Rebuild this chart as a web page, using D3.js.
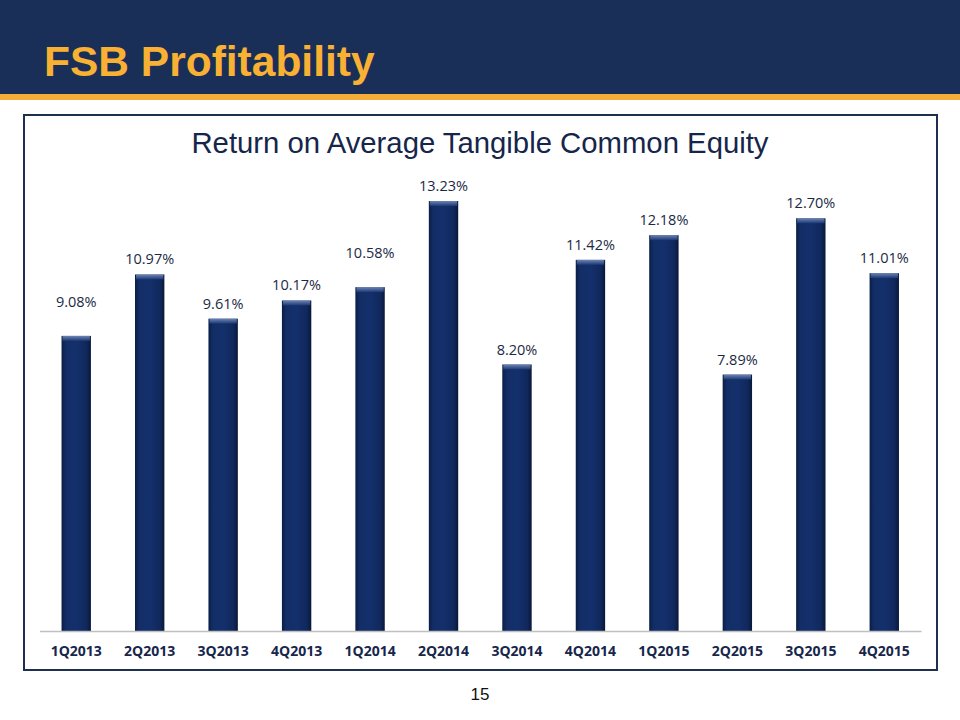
<!DOCTYPE html>
<html><head><meta charset="utf-8">
<script src="https://cdn.jsdelivr.net/npm/d3@7"></script>
<style>html,body{margin:0;padding:0;background:#fff;}svg{display:block;}</style>
</head><body>
<svg id="c" width="960" height="720"></svg>
<script>
const categories = ["1Q2013","2Q2013","3Q2013","4Q2013","1Q2014","2Q2014","3Q2014","4Q2014","1Q2015","2Q2015","3Q2015","4Q2015"];
const values = [9.08,10.97,9.61,10.17,10.58,13.23,8.20,11.42,12.18,7.89,12.70,11.01];
const labels = ["9.08%","10.97%","9.61%","10.17%","10.58%","13.23%","8.20%","11.42%","12.18%","7.89%","12.70%","11.01%"];
// label placement nudges (layout only)
const raisedLabels = ["1Q2013","1Q2014"];

const svg = d3.select("#c");
const defs = svg.append("defs");
const g1 = defs.append("linearGradient").attr("id","barg").attr("x1",0).attr("x2",1).attr("y1",0).attr("y2",0);
g1.append("stop").attr("offset","0%").attr("stop-color","#0a1d45");
g1.append("stop").attr("offset","15%").attr("stop-color","#132e66");
g1.append("stop").attr("offset","50%").attr("stop-color","#14306c");
g1.append("stop").attr("offset","85%").attr("stop-color","#10285c");
g1.append("stop").attr("offset","100%").attr("stop-color","#081838");
const g2 = defs.append("linearGradient").attr("id","bart").attr("x1",0).attr("x2",0).attr("y1",0).attr("y2",1);
g2.append("stop").attr("offset","0%").attr("stop-color","#7f95c0");
g2.append("stop").attr("offset","100%").attr("stop-color","#1d3a78");

// header
svg.append("rect").attr("x",0).attr("y",0).attr("width",960).attr("height",95).attr("fill","#192f58");
svg.append("rect").attr("x",0).attr("y",94).attr("width",960).attr("height",6).attr("fill","#f5ad3a");
svg.append("text").attr("x",44).attr("y",76).text("FSB Profitability")
  .attr("font-family","Liberation Sans, Arial, sans-serif").attr("font-weight","bold")
  .attr("font-size",42.5).attr("fill","#f8b133");

// chart box
svg.append("rect").attr("x",24).attr("y",115).attr("width",913).attr("height",555)
  .attr("fill","#fff").attr("stroke","#1e3050").attr("stroke-width",2);

svg.append("text").attr("x",480).attr("y",153).attr("text-anchor","middle")
  .text("Return on Average Tangible Common Equity")
  .attr("font-family","Liberation Sans, Arial, sans-serif").attr("font-size",29.3).attr("fill","#15264a");

const x = d3.scaleBand().domain(categories).range([39.5,921]).paddingInner(0.6).paddingOuter(0.3);
const y = d3.scaleLinear().domain([0,14]).range([631,176]);

const bars = svg.append("g");
categories.forEach((c,i)=>{
  const bx = x(c), bw = x.bandwidth(), by = y(values[i]), bh = y(0)-y(values[i]);
  bars.append("rect").attr("x",bx).attr("y",by).attr("width",bw).attr("height",bh).attr("fill","url(#barg)");
  bars.append("rect").attr("x",bx+1).attr("y",by).attr("width",bw-2).attr("height",5).attr("fill","url(#bart)").attr("opacity",0.85);
  const lift = raisedLabels.includes(c) ? 29 : 10;
  svg.append("text").attr("x",bx+bw/2).attr("y",by-lift).attr("text-anchor","middle")
    .text(labels[i]).attr("font-family","Open Sans, sans-serif").attr("font-size",14.5).attr("fill","#1b2a44");
});

const ax = svg.append("g").attr("transform","translate(0,631)").call(d3.axisBottom(x).tickSize(0).tickPadding(15));
ax.select(".domain").attr("stroke","#c0c0c0").attr("stroke-width",1.5);
ax.selectAll("text").attr("font-family","Open Sans, sans-serif").attr("font-weight","bold")
  .attr("font-size",14).attr("fill","#17264a");

svg.append("text").attr("x",480).attr("y",700).attr("text-anchor","middle").text("15")
  .attr("font-family","Liberation Sans, Arial, sans-serif").attr("font-size",17).attr("fill","#111");
</script>
</body></html>
